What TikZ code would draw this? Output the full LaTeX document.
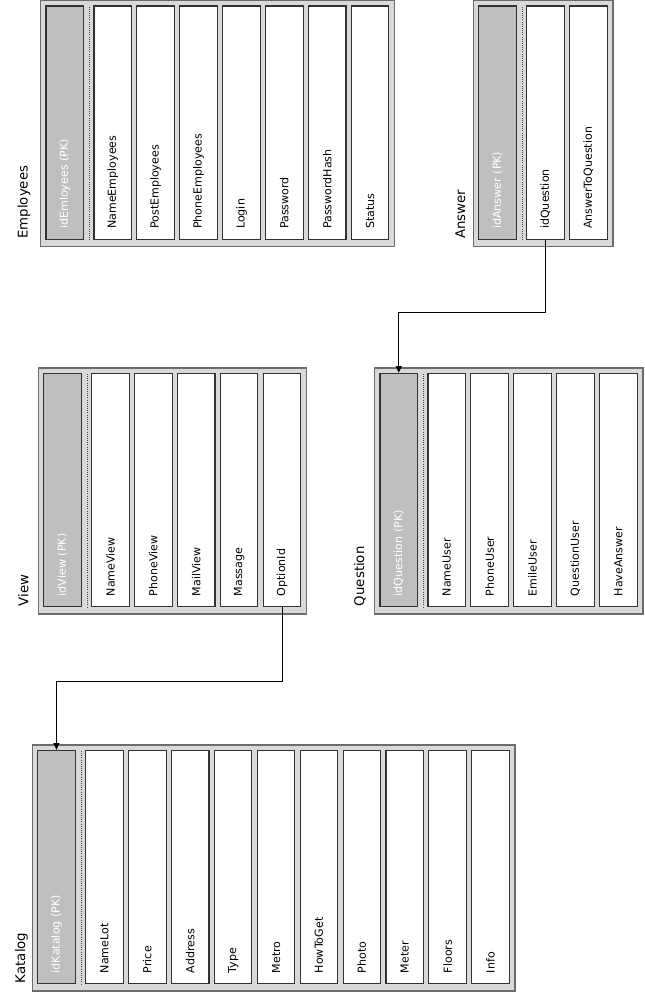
\documentclass[tikz,border=0pt]{standalone}
\usepackage{fontspec}
\setmainfont{DejaVu Sans}
\usetikzlibrary{arrows.meta,calc}

\begin{document}
\begin{tikzpicture}[
  x=0.75pt, y=-0.75pt,
  entity/.style={draw=gray!85!black, line width=1.1pt, fill=black!15, anchor=north west,
    minimum height=184.5pt, inner sep=0pt},
  attr/.style={draw=black!80, line width=0.8pt, fill=white, rotate=90,
    minimum width=175.1pt, minimum height=28.1pt, inner xsep=8pt, inner ysep=0pt,
    text width=159.1pt, align=left, font=\fontsize{8.3}{10}\selectfont},
  pkey/.style={attr, fill=black!25, text=white},
  caption/.style={rotate=90, anchor=base west, inner sep=0pt, font=\fontsize{10}{12}\selectfont},
  sep/.style={densely dotted, black!70, line width=0.6pt},
  link/.style={draw, line width=0.6pt, -{Triangle[length=5pt,width=4.5pt]}}
]
  \useasboundingbox (0,0) rectangle (644,994);

  % Employees
  \node[entity, minimum width=265.4pt] (emp) at (40,0) {};
  \node[caption] (empT) at (27.5,239) {Employees};
  \node[pkey] (empPK) at ($(emp.north west)+(24.75,122.75)$) {idEmloyees (PK)};
  \draw[sep] ($(empPK.south west)+(5.5,0)$) -- ($(empPK.south east)+(5.5,0)$);
  \foreach \f [count=\i] in {NameEmployees,PostEmployees,PhoneEmployees,Login,Password,PasswordHash,Status}
    \node[attr] (emp\i) at ($(emp.north west)+(72.75+42.9*\i-42.9,122.75)$) {\f};

  % Answer
  \node[entity, minimum width=104.6pt] (ans) at (472.7,0) {};
  \node[caption] (ansT) at (465,239) {Answer};
  \node[pkey] (ansPK) at ($(ans.north west)+(24.75,122.75)$) {idAnswer (PK)};
  \draw[sep] ($(ansPK.south west)+(5.5,0)$) -- ($(ansPK.south east)+(5.5,0)$);
  \foreach \f [count=\i] in {idQuestion,AnswerToQuestion}
    \node[attr] (ans\i) at ($(ans.north west)+(72.75+42.9*\i-42.9,122.75)$) {\f};

  % View
  \node[entity, minimum width=201.1pt] (view) at (37.7,367.3) {};
  \node[caption] (viewT) at (28.3,606.3) {View};
  \node[pkey] (viewPK) at ($(view.north west)+(24.75,122.75)$) {idView (PK)};
  \draw[sep] ($(viewPK.south west)+(5.5,0)$) -- ($(viewPK.south east)+(5.5,0)$);
  \foreach \f [count=\i] in {NameView,PhoneView,MailView,Massage,OptionId}
    \node[attr] (view\i) at ($(view.north west)+(72.75+42.9*\i-42.9,122.75)$) {\f};

  % Question
  \node[entity, minimum width=201.1pt] (quest) at (374,367.3) {};
  \node[caption] (questT) at (364,606.3) {Question};
  \node[pkey] (questPK) at ($(quest.north west)+(24.75,122.75)$) {idQuestion (PK)};
  \draw[sep] ($(questPK.south west)+(5.5,0)$) -- ($(questPK.south east)+(5.5,0)$);
  \foreach \f [count=\i] in {NameUser,PhoneUser,EmileUser,QuestionUser,HaveAnswer}
    \node[attr] (quest\i) at ($(quest.north west)+(72.75+42.9*\i-42.9,122.75)$) {\f};

  % Katalog
  \node[entity, minimum width=362pt] (kat) at (31.7,744.3) {};
  \node[caption] (katT) at (25,983.3) {Katalog};
  \node[pkey] (katPK) at ($(kat.north west)+(24.75,122.75)$) {idKatalog (PK)};
  \draw[sep] ($(katPK.south west)+(5.5,0)$) -- ($(katPK.south east)+(5.5,0)$);
  \foreach \f [count=\i] in {NameLot,Price,Address,Type,Metro,HowToGet,Photo,Meter,Floors,Info}
    \node[attr] (kat\i) at ($(kat.north west)+(72.75+42.9*\i-42.9,122.75)$) {\f};

  % links
  \draw[link] (ans1.west) -- ++(0,72.5) -| (questPK.east);
  \draw[link] (view5.west) -- ++(0,74) -| (katPK.east);
\end{tikzpicture}
\end{document}
